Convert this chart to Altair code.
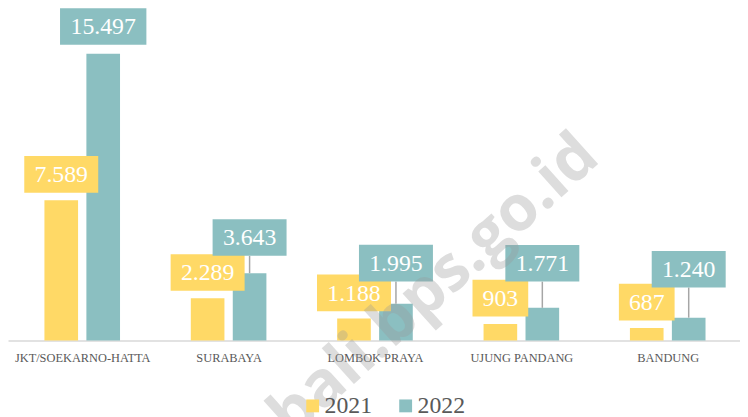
import json
import altair as alt
import pandas as pd

# ---- data ----
CATEGORIES = ["JKT/SOEKARNO-HATTA", "SURABAYA", "LOMBOK PRAYA", "UJUNG PANDANG", "BANDUNG"]
YEARS = ["2021", "2022"]
VALUES_2021 = [7589, 2289, 1188, 903, 687]
VALUES_2022 = [15497, 3643, 1995, 1771, 1240]
WATERMARK = "bali.bps.go.id"

# ---- style ----
COLORS = ["#FFD966", "#8BBFC1"]
FONT = "Liberation Serif"
PLOT_W, PLOT_H = 740, 334
BAND_PX = 150
Y_MAX = 17849
X_MIN = -71 / BAND_PX
X_MAX = X_MIN + PLOT_W / BAND_PX
BAR_SHIFT = 21.5 / BAND_PX
UPP = Y_MAX / PLOT_H          # value units per pixel
LIFT_2021 = [26, 26, 26, 26, 26]        # label box centre above bar top (px)
LIFT_2022 = [27.5, 36, 41, 45, 49]
BOX_H = 37


def fmt(v):
    return f"{v:,}".replace(",", ".")


rows = []
for i, cat in enumerate(CATEGORIES):
    for year, vals, shift, lifts in (("2021", VALUES_2021, -BAR_SHIFT, LIFT_2021),
                                     ("2022", VALUES_2022, BAR_SHIFT, LIFT_2022)):
        v = vals[i]
        lab = fmt(v)
        ndig = sum(c.isdigit() for c in lab)
        ndot = lab.count(".")
        box_w = 12.7 * ndig + 6 * ndot + 19
        xpos = i + shift
        lift = lifts[i]
        rows.append(dict(
            cat=cat, year=year, value=v, label=lab, xpos=xpos,
            box_x=xpos - box_w / 2 / BAND_PX, box_x2=xpos + box_w / 2 / BAND_PX,
            box_y=v + (lift - BOX_H / 2) * UPP, box_y2=v + (lift + BOX_H / 2) * UPP,
            text_y=v + lift * UPP,
            show_lead=(year == "2022") and (lift - BOX_H / 2 > 10),
        ))
df = pd.DataFrame(rows)

xscale = alt.Scale(domain=[X_MIN, X_MAX], nice=False, zero=False)
yscale = alt.Scale(domain=[0, Y_MAX], nice=False)
cscale = alt.Scale(domain=YEARS, range=COLORS)
label_expr = json.dumps(CATEGORIES).replace('"', "'") + "[datum.value]"
xaxis = alt.Axis(values=list(range(len(CATEGORIES))), labelExpr=label_expr, title=None,
                 grid=False, ticks=False, tickSize=0, domainColor="#D9D9D9", domainWidth=1.5,
                 labelFont=FONT, labelFontSize=12.5, labelColor="#595959", labelPadding=11)


def X(field):
    return alt.X(field, type="quantitative", scale=xscale, axis=xaxis)


def Y(field):
    return alt.Y(field, type="quantitative", scale=yscale, axis=None)


base = alt.Chart(df)

bars = base.mark_bar(size=34).encode(
    x=X("xpos"), y=Y("value"),
    color=alt.Color("year:N", scale=cscale, legend=alt.Legend(
        orient="none", legendX=296, legendY=388, direction="horizontal", title=None,
        symbolType="square", symbolSize=169, symbolStrokeWidth=0, symbolOpacity=1,
        labelFont=FONT, labelFontSize=24, labelColor="#595959", labelOffset=0,
        columnPadding=22)),
)

leaders = base.transform_filter("datum.show_lead").mark_rule(
    color="#A6A6A6", strokeWidth=1.5).encode(x=X("xpos"), y=Y("value"), y2="box_y:Q")

boxes = base.mark_rect().encode(
    x=X("box_x"), x2="box_x2:Q", y=Y("box_y"), y2="box_y2:Q",
    color=alt.Color("year:N", scale=cscale, legend=None))

texts = base.mark_text(font=FONT, fontSize=24, color="white", baseline="middle", dy=1).encode(
    x=X("xpos"), y=Y("text_y"), text="label:N")

wm = alt.Chart(pd.DataFrame({"t": [WATERMARK]})).mark_text(
    font="Open Sans", fontWeight="bold", fontSize=64, angle=318, align="center",
    baseline="middle", color="#9A9A9A", opacity=0.33).encode(
    x=alt.value(431), y=alt.value(279), text="t:N")

chart = alt.layer(bars, leaders, boxes, texts, wm).properties(
    width=PLOT_W, height=PLOT_H,
    autosize=alt.AutoSizeParams(type="none"),
    padding={"left": 0, "top": 0, "right": 0, "bottom": 75},
).configure_view(stroke=None)

chart.save("out.html", embed_options={"renderer": "svg", "actions": False})
